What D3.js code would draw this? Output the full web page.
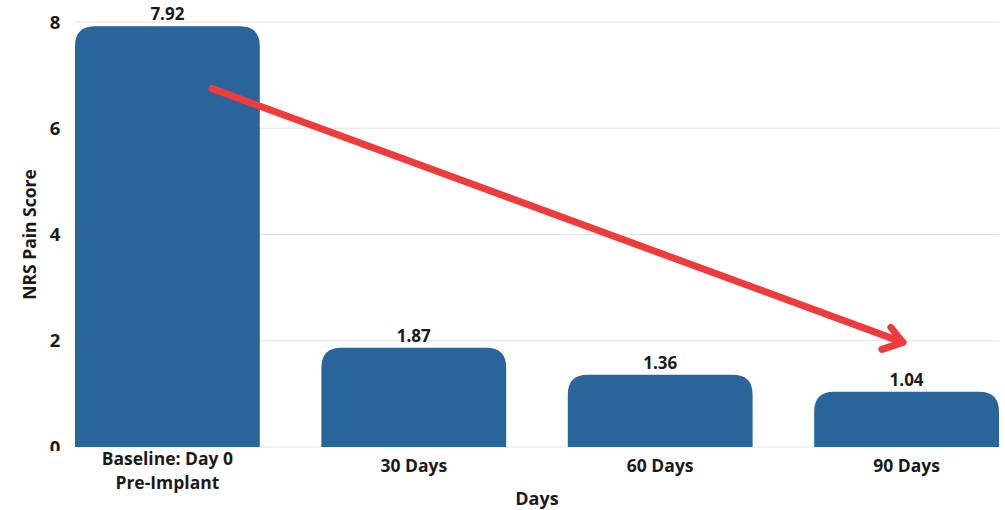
<!DOCTYPE html>
<html><head><meta charset="utf-8">
<script src="https://cdn.jsdelivr.net/npm/d3@7"></script>
<style>body{margin:0;background:#fff;} text{font-family:"Open Sans",sans-serif;font-weight:700;fill:#1a1a1a;}</style>
</head><body>
<svg id="c" width="1005" height="510"></svg>
<script>
const categories = [["Baseline: Day 0","Pre-Implant"],["30 Days"],["60 Days"],["90 Days"]];
const values = [7.92, 1.87, 1.36, 1.04];
const yTicks = [0, 2, 4, 6, 8];
const xTitle = "Days";
const yTitle = "NRS Pain Score";

const svg = d3.select("#c");
const keys = categories.map(c => c.join(" "));
const x = d3.scaleBand().domain(keys).range([75, 999]).paddingInner(0.25).paddingOuter(0);
const y = d3.scaleLinear().domain([0, 8]).range([447, 22]);

// gridlines
svg.append("g").selectAll("line").data(yTicks).join("line")
  .attr("x1", 75).attr("x2", 999)
  .attr("y1", d => y(d)).attr("y2", d => y(d))
  .attr("stroke", "#e4e4e4").attr("stroke-width", 1.2);

// bars with top rounded corners
const r = 20;
function barPath(d, i) {
  const x0 = x(keys[i]), w = x.bandwidth(), y0 = y(d), yb = y(0);
  const rr = Math.min(r, (yb - y0));
  return `M${x0},${yb}V${y0 + rr}Q${x0},${y0} ${x0 + rr},${y0}H${x0 + w - rr}Q${x0 + w},${y0} ${x0 + w},${y0 + rr}V${yb}Z`;
}
svg.append("g").selectAll("path").data(values).join("path")
  .attr("d", barPath).attr("fill", "#29649b");

// value labels
svg.append("g").selectAll("text").data(values).join("text")
  .attr("x", (d, i) => x(keys[i]) + x.bandwidth() / 2)
  .attr("y", d => y(d) - 6)
  .attr("text-anchor", "middle").attr("font-size", 17)
  .text(d => d.toFixed(2));

// y tick labels
const clip = svg.append("defs").append("clipPath").attr("id", "cl");
clip.append("rect").attr("x", 0).attr("y", 0).attr("width", 75).attr("height", 451);
svg.append("g").attr("clip-path", "url(#cl)").selectAll("text").data(yTicks).join("text")
  .attr("x", 55).attr("y", d => y(d)).attr("dy", "0.36em")
  .attr("text-anchor", "middle").attr("font-size", 18.5)
  .text(d => d);

// x tick labels
const xl = svg.append("g").selectAll("text").data(categories).join("text")
  .attr("x", (d, i) => x(keys[i]) + x.bandwidth() / 2)
  .attr("y", d => d.length > 1 ? 465 : 472)
  .attr("text-anchor", "middle").attr("font-size", 17.5);
xl.selectAll("tspan").data(d => d).join("tspan")
  .attr("x", function() { return this.parentNode.getAttribute("x"); })
  .attr("dy", (d, i) => i === 0 ? 0 : 24)
  .text(d => d);

// axis titles
svg.append("text").attr("x", 537).attr("y", 505).attr("text-anchor", "middle")
  .attr("font-size", 18).text(xTitle);
svg.append("text").attr("transform", `translate(36,${y(4)}) rotate(-90)`)
  .attr("text-anchor", "middle").attr("font-size", 17.5).text(yTitle);

// red arrow annotation
const sx = x(keys[0]) + x.bandwidth() * 0.74, sy = y(6.75);
const ex = x(keys[3]) + x.bandwidth() * 0.48, ey = y(1.97);
const red = "#ee3b3b";
svg.append("line").attr("x1", sx).attr("y1", sy).attr("x2", ex).attr("y2", ey)
  .attr("stroke", red).attr("stroke-width", 7).attr("stroke-linecap", "round");
svg.append("path")
  .attr("d", `M${ex - 12},${ey - 15}L${ex},${ey}L${ex - 21},${ey + 7}`)
  .attr("fill", "none").attr("stroke", red).attr("stroke-width", 7)
  .attr("stroke-linecap", "round").attr("stroke-linejoin", "round");
</script>
</body></html>
